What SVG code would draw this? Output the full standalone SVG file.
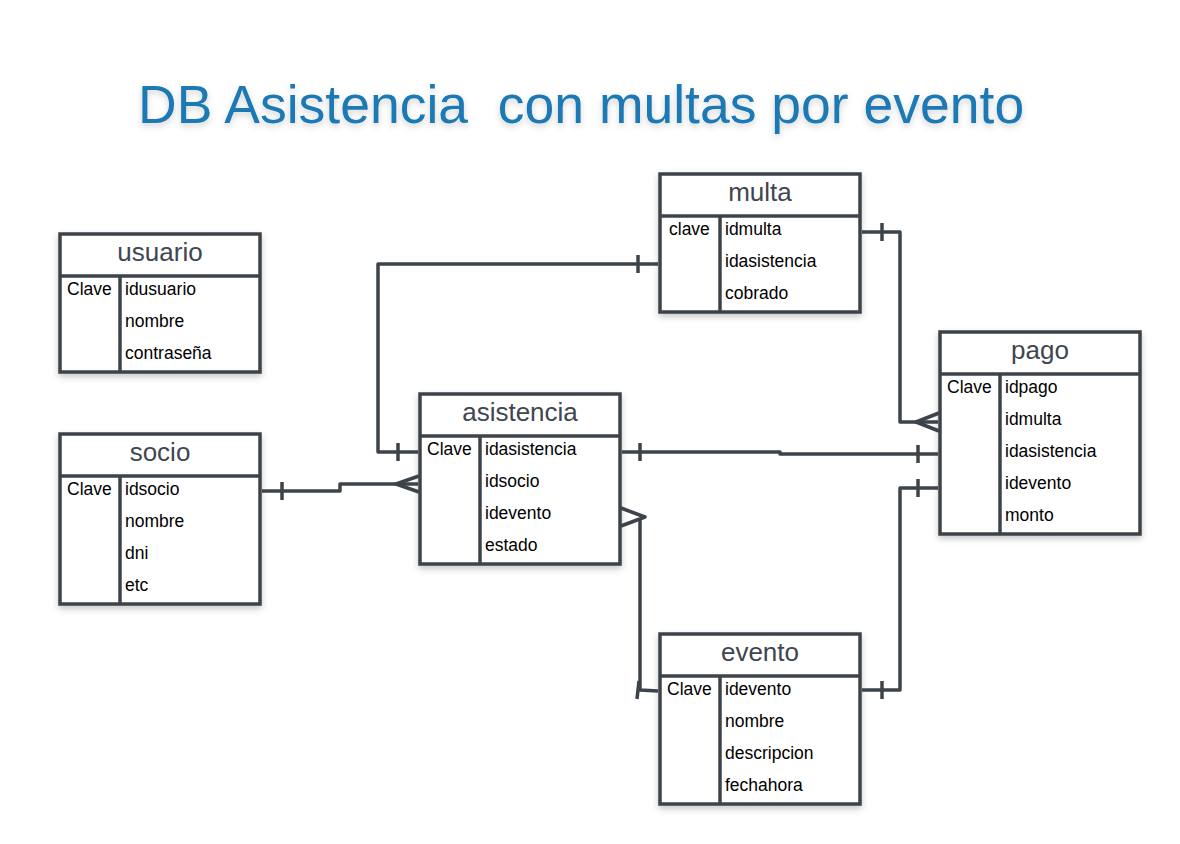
<svg xmlns="http://www.w3.org/2000/svg" width="1180" height="844" viewBox="0 0 1180 844">
<defs>
<filter id="sh" x="-10%" y="-10%" width="120%" height="130%">
<feDropShadow dx="0" dy="3" stdDeviation="3" flood-color="#000" flood-opacity="0.22"/>
</filter>
<filter id="tsh" x="-5%" y="-20%" width="110%" height="150%">
<feDropShadow dx="0" dy="3" stdDeviation="3" flood-color="#000" flood-opacity="0.18"/>
</filter>
</defs>
<style>
.box{fill:#fff;stroke:#3d434a;stroke-width:3.5}
.ln{stroke:#3d434a;stroke-width:3.5;fill:none}
.hd{font-family:"Liberation Sans",Arial,sans-serif;font-size:26px;fill:#3f4650;text-anchor:middle}
.tx{font-family:"Liberation Sans",Arial,sans-serif;font-size:17.5px;fill:#000}
.title{font-family:"Liberation Sans",Arial,sans-serif;font-size:53.5px;fill:#1a79b4;white-space:pre}
.c{stroke:#3d434a;stroke-width:3.5;fill:none;stroke-linejoin:round}
</style>
<rect width="1180" height="844" fill="#fff"/>
<text class="title" x="138" y="123" xml:space="preserve" filter="url(#tsh)">DB Asistencia  con multas por evento</text>

<g id="usuario" transform="translate(60,234)">
<rect class="box" width="200" height="138" filter="url(#sh)"/>
<line class="ln" x1="0" y1="42" x2="200" y2="42"/>
<line class="ln" x1="60" y1="42" x2="60" y2="138"/>
<text class="hd" x="100" y="27">usuario</text>
<text class="tx" x="7" y="61">Clave</text>
<text class="tx" x="65" y="61">idusuario</text>
<text class="tx" x="65" y="93">nombre</text>
<text class="tx" x="65" y="125">contraseña</text>
</g>

<g id="socio" transform="translate(60,434)">
<rect class="box" width="200" height="170" filter="url(#sh)"/>
<line class="ln" x1="0" y1="42" x2="200" y2="42"/>
<line class="ln" x1="60" y1="42" x2="60" y2="170"/>
<text class="hd" x="100" y="27">socio</text>
<text class="tx" x="7" y="61">Clave</text>
<text class="tx" x="65" y="61">idsocio</text>
<text class="tx" x="65" y="93">nombre</text>
<text class="tx" x="65" y="125">dni</text>
<text class="tx" x="65" y="157">etc</text>
</g>

<g id="asistencia" transform="translate(420,394)">
<rect class="box" width="200" height="170" filter="url(#sh)"/>
<line class="ln" x1="0" y1="42" x2="200" y2="42"/>
<line class="ln" x1="60" y1="42" x2="60" y2="170"/>
<text class="hd" x="100" y="27">asistencia</text>
<text class="tx" x="7" y="61">Clave</text>
<text class="tx" x="65" y="61">idasistencia</text>
<text class="tx" x="65" y="93">idsocio</text>
<text class="tx" x="65" y="125">idevento</text>
<text class="tx" x="65" y="157">estado</text>
</g>

<g id="multa" transform="translate(660,174)">
<rect class="box" width="200" height="138" filter="url(#sh)"/>
<line class="ln" x1="0" y1="42" x2="200" y2="42"/>
<line class="ln" x1="60" y1="42" x2="60" y2="138"/>
<text class="hd" x="100" y="27">multa</text>
<text class="tx" x="9" y="61">clave</text>
<text class="tx" x="65" y="61">idmulta</text>
<text class="tx" x="65" y="93">idasistencia</text>
<text class="tx" x="65" y="125">cobrado</text>
</g>

<g id="pago" transform="translate(940,332)">
<rect class="box" width="200" height="202" filter="url(#sh)"/>
<line class="ln" x1="0" y1="42" x2="200" y2="42"/>
<line class="ln" x1="60" y1="42" x2="60" y2="202"/>
<text class="hd" x="100" y="27">pago</text>
<text class="tx" x="7" y="61">Clave</text>
<text class="tx" x="65" y="61">idpago</text>
<text class="tx" x="65" y="93">idmulta</text>
<text class="tx" x="65" y="125">idasistencia</text>
<text class="tx" x="65" y="157">idevento</text>
<text class="tx" x="65" y="189">monto</text>
</g>

<g id="evento" transform="translate(660,634)">
<rect class="box" width="200" height="170" filter="url(#sh)"/>
<line class="ln" x1="0" y1="42" x2="200" y2="42"/>
<line class="ln" x1="60" y1="42" x2="60" y2="170"/>
<text class="hd" x="100" y="27">evento</text>
<text class="tx" x="7" y="61">Clave</text>
<text class="tx" x="65" y="61">idevento</text>
<text class="tx" x="65" y="93">nombre</text>
<text class="tx" x="65" y="125">descripcion</text>
<text class="tx" x="65" y="157">fechahora</text>
</g>

<g id="connectors">
<!-- multa - asistencia -->
<path class="c" d="M658 264 H378 V452 H418"/>
<line class="c" x1="638" y1="255" x2="638" y2="273"/>
<line class="c" x1="398" y1="443" x2="398" y2="461"/>
<!-- socio - asistencia -->
<path class="c" d="M262 491 H340 V484 H418"/>
<line class="c" x1="282" y1="482" x2="282" y2="500"/>
<path class="c" d="M419 476 L396 484 L419 492"/>
<!-- asistencia - pago -->
<path class="c" d="M622 452 H780 V454 H938"/>
<line class="c" x1="640" y1="443" x2="640" y2="461"/>
<line class="c" x1="918" y1="445" x2="918" y2="463"/>
<!-- multa - pago -->
<path class="c" d="M862 232 H900 V422 H938"/>
<line class="c" x1="882" y1="223" x2="882" y2="241"/>
<path class="c" d="M939 413 L916 422 L939 431"/>
<!-- evento - pago -->
<path class="c" d="M862 690 H900 V488 H938"/>
<line class="c" x1="882" y1="681" x2="882" y2="699"/>
<line class="c" x1="918" y1="479" x2="918" y2="497"/>
<!-- evento - asistencia -->
<path class="c" d="M658 691 L640 690 V518"/>
<path class="c" d="M621 508 L645 517 L621 526"/>
<line class="c" x1="639" y1="681" x2="637" y2="699"/>
</g>
</svg>
